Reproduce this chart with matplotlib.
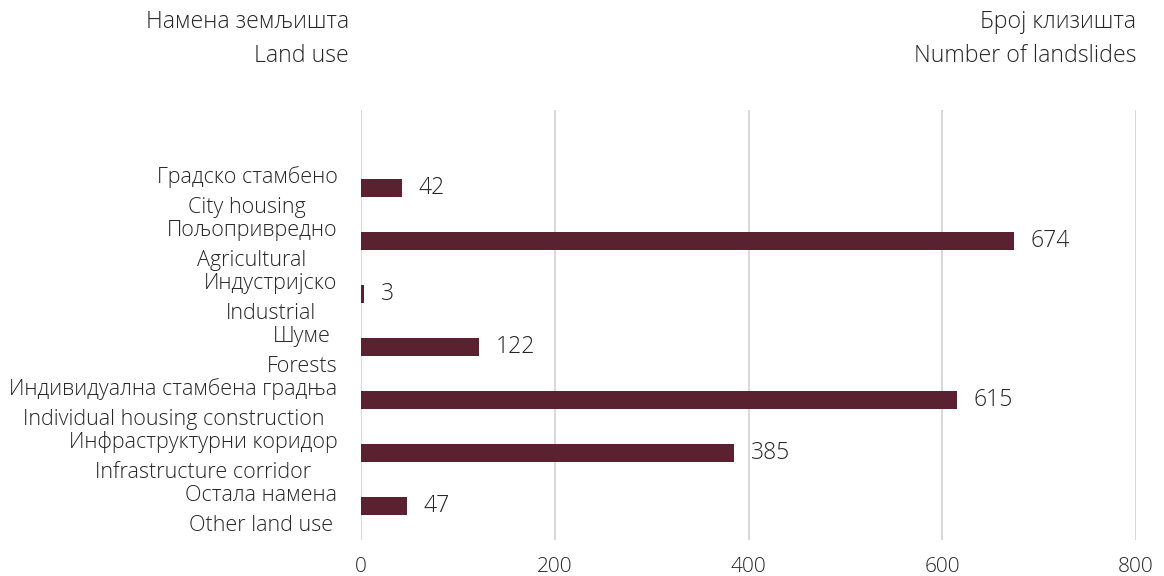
import matplotlib
matplotlib.use("Agg")
import matplotlib.pyplot as plt

plt.rcParams['font.family'] = ['Open Sans', 'DejaVu Sans']
plt.rcParams['font.weight'] = 'light'

categories_sr = ["Градско стамбено", "Пољопривредно", "Индустријско", "Шуме",
                 "Индивидуална стамбена градња", "Инфраструктурни коридор", "Остала намена"]
categories_en = ["City housing", "Agricultural", "Industrial", "Forests",
                 "Individual housing construction", "Infrastructure corridor", "Other land use"]
values = [42, 674, 3, 122, 615, 385, 47]
xticks = [0, 200, 400, 600, 800]

bar_color = "#5a2230"
text_color = "#262626"

fig = plt.figure(figsize=(11.64, 5.76), dpi=100)
ax = fig.add_axes([361/1164, 1-540/576, (1136-361)/1164, (540-110)/576])

y = list(range(len(values)))
ax.barh(y, values, height=0.34, color=bar_color, zorder=3)
ax.set_ylim(6.64, -1.47)
ax.set_xlim(0, 800)

ax.set_xticks(xticks)
ax.set_xticklabels([str(t) for t in xticks], fontsize=15, color=text_color)
ax.tick_params(axis='x', length=0, pad=12)
ax.grid(axis='x', color='#d9d9d9', linewidth=1.5, zorder=0)
ax.set_axisbelow(True)
for s in ax.spines.values():
    s.set_visible(False)

ax.set_yticks(y)
ax.set_yticklabels([])
ax.tick_params(axis='y', length=0)
for yi, a, b in zip(y, categories_sr, categories_en):
    ax.annotate(f"{a}\n{b}", xy=(0, yi), xycoords=('axes fraction', 'data'),
                xytext=(-17, -3), textcoords='offset points',
                ha='right', va='center', multialignment='center', linespacing=1.55,
                fontsize=15.5, color=text_color)

for yi, v in zip(y, values):
    ax.annotate(str(v), (v, yi), xytext=(12, 0), textcoords='offset points',
                va='center', ha='left', fontsize=16.5, color=text_color)

hdr = 16.7
fig.text(349/1164, 1-22/576, "Намена земљишта", ha='right', va='center', fontsize=hdr, color=text_color)
fig.text(349/1164, 1-56/576, "Land use", ha='right', va='center', fontsize=hdr, color=text_color)
fig.text(1136/1164, 1-22/576, "Број клизишта", ha='right', va='center', fontsize=hdr, color=text_color)
fig.text(1136/1164, 1-56/576, "Number of landslides", ha='right', va='center', fontsize=hdr, color=text_color)

fig.savefig("out.png", dpi=100, facecolor='white')
